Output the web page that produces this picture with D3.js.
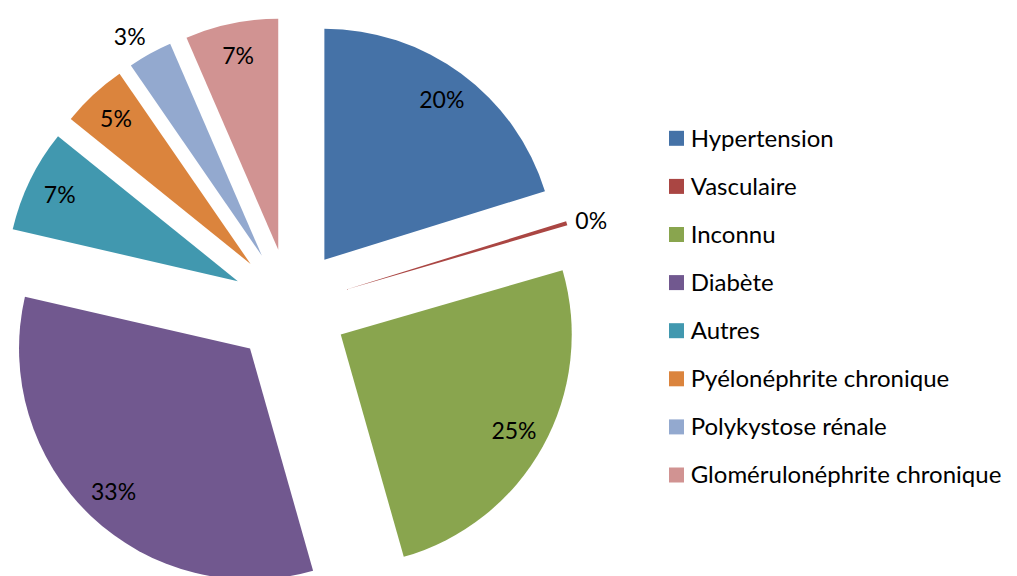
<!DOCTYPE html>
<html>
<head>
<meta charset="utf-8">
<title>Causes</title>
<script src="https://cdn.jsdelivr.net/npm/d3@7/dist/d3.min.js"></script>
<style>
    html, body { margin: 0; padding: 0; background: #fff; }
    svg { display: block; }
    text { font-family: Lato, "Open Sans", sans-serif; fill: #000; }
</style>
</head>
<body>
<div id="chart"></div>
<script>
// categories, values (percent of patients) and colours
var categories = [
    'Hypertension',
    'Vasculaire',
    'Inconnu',
    'Diabète',
    'Autres',
    'Pyélonéphrite chronique',
    'Polykystose rénale',
    'Glomérulonéphrite chronique'
];
var values = [20.2, 0.3, 25.1, 33.0, 7.2, 4.6, 3.1, 6.5];
var colors = ['#4572A7', '#AA4643', '#89A54E', '#71588F', '#4198AF', '#DB843D', '#93A9CF', '#D19392'];

;(function(window, document, d3) {

    'use strict';

    var width = 1017,
    height = 576,
    cx = 290,
    cy = 306.5,
    radius = 231,
    explode = 58,   // every slice is pulled out of the centre by this much
    label_r = 198,  // inside labels
    font_size = 23,
    legend_font = 24;

    var total = d3.sum(values);

    var data = categories.map(function(c, i) {
        return { name: c, value: values[i], color: colors[i] };
    });

    var svg = d3.select('#chart')
        .append('svg')
        .attr('width', width)
        .attr('height', height);

    var pie = d3.pie()
        .sort(null)
        .value(function(d) { return d.value; });

    var arc = d3.arc()
        .innerRadius(0)
        .outerRadius(radius);

    var arcs = pie(data);

    // offset of an exploded slice along its middle angle
    function shift(d, r) {
        var a = (d.startAngle + d.endAngle) / 2;
        return [Math.sin(a) * r, -Math.cos(a) * r];
    }

    var pieG = svg.append('g')
        .attr('transform', 'translate(' + cx + ',' + cy + ')');

    var slices = pieG.selectAll('g.slice')
        .data(arcs)
        .enter()
        .append('g')
        .attr('class', 'slice')
        .attr('transform', function(d) {
            var o = shift(d, explode);
            return 'translate(' + o[0] + ',' + o[1] + ')';
        });

    slices.append('path')
        .attr('d', arc)
        .attr('fill', function(d) { return d.data.color; });

    function pct(d) {
        return Math.round(d.data.value / total * 100 + 1e-9) + '%';
    }

    // labels: inside the big slices, outside the thin ones
    slices.each(function(d) {
        var g = d3.select(this);
        var share = d.data.value / total;
        if (share >= 0.04) {
            var p = shift(d, label_r);
            g.append('text')
                .attr('x', p[0])
                .attr('y', p[1])
                .attr('dy', '0.35em')
                .attr('text-anchor', 'middle')
                .style('font-size', font_size + 'px')
                .text(pct(d));
        } else {
            var a = (d.startAngle + d.endAngle) / 2,
            dx = Math.sin(a),
            dy = -Math.cos(a),
            p2 = shift(d, radius + 9);
            var t = g.append('text')
                .attr('dy', '0.35em')
                .attr('text-anchor', 'middle')
                .style('font-size', font_size + 'px')
                .text(pct(d));
            var w = t.node().getComputedTextLength(),
            h = font_size * 0.75;
            var ox = Math.abs(dx) > 0.3 ? Math.sign(dx) * w / 2 : 0,
            oy = Math.abs(dy) > 0.3 ? Math.sign(dy) * h / 2 : 0;
            t.attr('x', p2[0] + ox).attr('y', p2[1] + oy);
        }
    });

    // legend
    var legend = svg.append('g')
        .attr('transform', 'translate(669,138.3)');

    var item = legend.selectAll('g')
        .data(data)
        .enter()
        .append('g')
        .attr('transform', function(d, i) { return 'translate(0,' + (i * 48.1) + ')'; });

    item.append('rect')
        .attr('x', 0)
        .attr('y', -7.5)
        .attr('width', 15)
        .attr('height', 15)
        .attr('fill', function(d) { return d.color; });

    item.append('text')
        .attr('x', 21.7)
        .attr('dy', '0.35em')
        .style('font-size', legend_font + 'px')
        .text(function(d) { return d.name; });

}(window, document, window.d3));
</script>
</body>
</html>
